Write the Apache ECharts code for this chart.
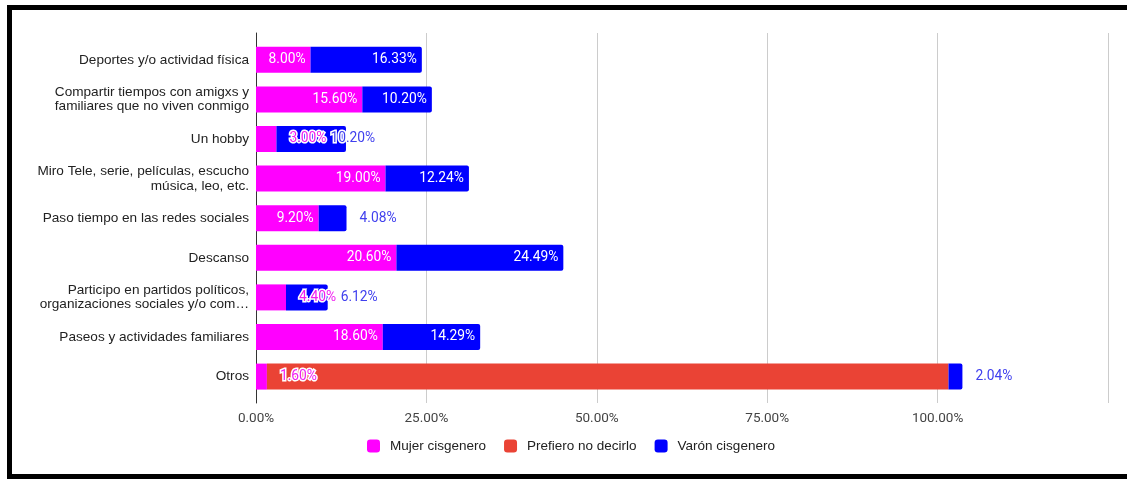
<!DOCTYPE html>
<html><head><meta charset="utf-8">
<script src="https://cdn.jsdelivr.net/npm/echarts@6/dist/echarts.min.js"></script>
<style>
html,body{margin:0;padding:0;background:#fff;overflow:hidden;width:1127px;height:479px}
#chart{position:absolute;left:0;top:0;width:1127px;height:479px}
#frame{position:absolute;left:7px;top:5px;width:1140px;height:464px;border:5px solid #000;border-right:none;pointer-events:none}
</style></head><body>
<div id="chart"></div><div id="frame"></div>
<script>
const categories = [
  'Deportes y/o actividad física',
  'Compartir tiempos con amigxs y\nfamiliares que no viven conmigo',
  'Un hobby',
  'Miro Tele, serie, películas, escucho\nmúsica, leo, etc.',
  'Paso tiempo en las redes sociales',
  'Descanso',
  'Participo en partidos políticos,\norganizaciones sociales y/o com…',
  'Paseos y actividades familiares',
  'Otros'
];
const seriesNames = ['Mujer cisgenero', 'Prefiero no decirlo', 'Varón cisgenero'];
const mujer    = [8.00, 15.60, 3.00, 19.00, 9.20, 20.60, 4.40, 18.60, 1.60];
const prefiero = [null, null, null, null, null, null, null, null, 100.00];
const varon    = [16.33, 10.20, 10.20, 12.24, 4.08, 24.49, 6.12, 14.29, 2.04];
const xTicks      = [0, 25, 50, 75, 100, 125];
const xTickLabels = ['0.00%', '25.00%', '50.00%', '75.00%', '100.00%', ''];

const COLORS = ['#ff00ff', '#ea4335', '#0000ff'];
const OUT_PINK = '#f01ef0', OUT_BLUE = '#4040ee';
const X_MAX = 125, LEFT = 256, RIGHT = 19;
const PX = (1127 - LEFT - RIGHT) / X_MAX;
const LABEL_FS = 13.8;
const ctx = document.createElement('canvas').getContext('2d');
ctx.font = LABEL_FS + 'px Roboto';
const tw = s => ctx.measureText(s).width;
const fmt = v => v.toFixed(2) + '%';
const PAD = 5, GAP = 13;

function mujerItem(v) {
  const w = tw(fmt(v)), px = v * PX;
  if (px >= w + 2 * PAD) return { value: v, label: { position: 'insideRight', distance: PAD, color: '#fff' } };
  return { value: v, label: { position: 'right', distance: GAP, color: OUT_PINK, textBorderColor: '#fff', textBorderWidth: 3 } };
}
function varonItem(v, i) {
  const m = mujer[i] || 0, p = prefiero[i] || 0;
  const w = tw(fmt(v)), px = v * PX;
  const mw = tw(fmt(m));
  const mOut = !p && m * PX < mw + 2 * PAD;
  const mEnd = mOut ? m * PX + GAP + mw : 0;
  const segStart = (m + p) * PX, segEnd = segStart + px;
  const inLeft = segEnd - PAD - w;
  const outStyle = { color: OUT_BLUE, textBorderColor: '#fff', textBorderWidth: 3 };
  if (px >= w + 2 * PAD) {
    if (!mOut || inLeft > mEnd + 4) return { value: v, label: { position: 'insideRight', distance: PAD, color: '#fff' } };
    return { value: v, label: Object.assign({ position: 'insideLeft', distance: mEnd + 4 - segStart }, outStyle) };
  }
  return { value: v, label: Object.assign({ position: 'right', distance: GAP }, outStyle) };
}

const labelBase = { show: true, fontFamily: 'Roboto', fontSize: LABEL_FS, formatter: p => fmt(p.value) };

const chart = echarts.init(document.getElementById('chart'), null, { renderer: 'canvas' });
chart.setOption({
  animation: false,
  backgroundColor: '#fff',
  color: COLORS,
  legend: {
    left: 367, top: 439, padding: 0, itemWidth: 13, itemHeight: 13, itemGap: 18, icon: 'roundRect',
    textStyle: { fontFamily: 'Liberation Sans, Arial', fontSize: 13.5, color: '#222', padding: [0, 0, 0, 5] },
    data: seriesNames
  },
  grid: [
    { left: LEFT, right: RIGHT, top: 40, bottom: 479 - 396.4 },
    { left: LEFT, right: RIGHT, top: 33, bottom: 479 - 403 }
  ],
  xAxis: [
    { gridIndex: 0, type: 'value', min: 0, max: X_MAX, interval: 25, show: false },
    { gridIndex: 1, type: 'value', min: 0, max: X_MAX, interval: 25,
      axisLine: { show: false }, axisTick: { show: false },
      splitLine: { show: true, lineStyle: { color: '#cccccc', width: 1 } },
      axisLabel: { margin: 9, fontFamily: 'Roboto', fontSize: 13.5, color: '#444',
        formatter: v => { const k = xTicks.indexOf(v); return k >= 0 ? xTickLabels[k] : ''; } } }
  ],
  yAxis: [
    { gridIndex: 0, type: 'category', inverse: true, data: categories,
      axisLine: { show: false }, axisTick: { show: false }, splitLine: { show: false },
      axisLabel: { margin: 7, fontFamily: 'Liberation Sans, Arial', fontSize: 13.6, color: '#222', lineHeight: 14.5 } },
    { gridIndex: 1, type: 'value', min: 0, max: 1, axisLabel: { show: false }, axisTick: { show: false },
      splitLine: { show: false }, axisLine: { show: true, onZero: false, lineStyle: { color: '#333', width: 1 } } }
  ],
  series: [
    { name: seriesNames[0], type: 'bar', stack: 'total', barWidth: 26, xAxisIndex: 0, yAxisIndex: 0,
      itemStyle: { color: COLORS[0] }, label: labelBase, data: mujer.map(mujerItem) },
    { name: seriesNames[1], type: 'bar', stack: 'total', barWidth: 26, xAxisIndex: 0, yAxisIndex: 0,
      itemStyle: { color: COLORS[1] }, label: { show: false }, data: prefiero },
    { name: seriesNames[2], type: 'bar', stack: 'total', barWidth: 26, xAxisIndex: 0, yAxisIndex: 0,
      itemStyle: { color: COLORS[2], borderRadius: [0, 2, 2, 0] }, label: labelBase, data: varon.map(varonItem) }
  ]
});
</script>
</body></html>
